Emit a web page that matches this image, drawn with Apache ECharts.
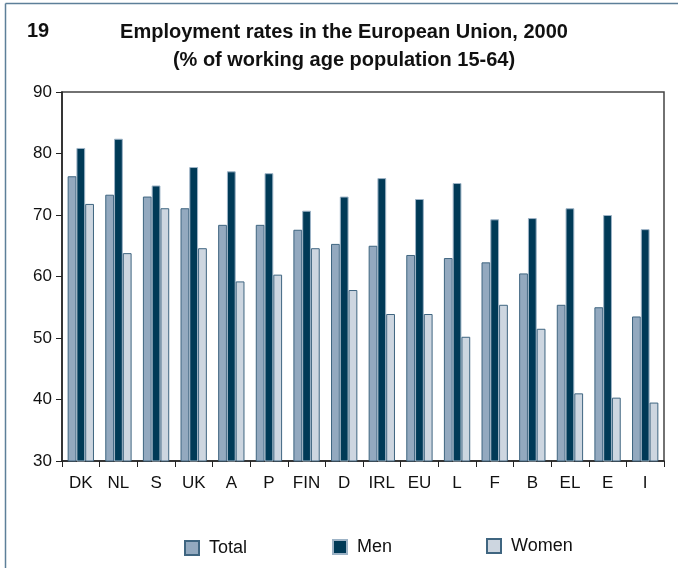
<!DOCTYPE html>
<html>
<head>
<meta charset="utf-8">
<script src="https://cdn.jsdelivr.net/npm/echarts@6/dist/echarts.min.js"></script>
<style>
  html, body { margin: 0; padding: 0; background: #fff; }
  #chart { width: 678px; height: 568px; }
</style>
</head>
<body>
<div id="chart"></div>
<script>
// Member states, ordered by total employment rate
const categories = ['DK', 'NL', 'S', 'UK', 'A', 'P', 'FIN', 'D', 'IRL', 'EU', 'L', 'F', 'B', 'EL', 'E', 'I'];
const totalRates = [76.3, 73.3, 73.0, 71.1, 68.4, 68.4, 67.6, 65.3, 65.0, 63.5, 63.0, 62.3, 60.5, 55.4, 55.0, 53.5];
const menRates   = [80.9, 82.4, 74.8, 77.8, 77.1, 76.8, 70.7, 73.0, 76.0, 72.6, 75.2, 69.3, 69.5, 71.1, 70.0, 67.7];
const womenRates = [71.8, 63.8, 71.1, 64.6, 59.2, 60.3, 64.6, 57.8, 53.9, 53.9, 50.2, 55.4, 51.5, 41.0, 40.3, 39.5];
const yTicks = [30, 40, 50, 60, 70, 80, 90];

const FONT = '"Liberation Sans", Arial, sans-serif';
const chart = echarts.init(document.getElementById('chart'), null, { renderer: 'canvas' });

const legendText = { fontFamily: FONT, fontSize: 18, color: '#111', padding: [0, 0, 0, 5] };
function legendAt(name, left, top) {
  return {
    data: [name], left: left, top: top,
    itemWidth: 14, itemHeight: 14, itemGap: 10,
    icon: 'rect', textStyle: legendText, selectedMode: false
  };
}

chart.setOption({
  animation: false,
  backgroundColor: '#fff',
  title: [
    { text: '19', left: 22, top: 16, textStyle: { fontFamily: FONT, fontSize: 20, fontWeight: 'bold', color: '#111' } },
    { text: 'Employment rates in the European Union, 2000\n(% of working age population 15-64)',
      left: 339, top: 13, textAlign: 'center',
      textStyle: { fontFamily: FONT, fontSize: 20, fontWeight: 'bold', color: '#111', lineHeight: 28 } }
  ],
  graphic: [
    { type: 'line', shape: { x1: 5.5, y1: 3.5, x2: 678, y2: 3.5 }, style: { stroke: '#5d7f99', lineWidth: 1.5 } },
    { type: 'line', shape: { x1: 5.5, y1: 3.5, x2: 5.5, y2: 568 }, style: { stroke: '#5d7f99', lineWidth: 1.5 } }
  ],
  legend: [
    legendAt('Total', 179, 534),
    legendAt('Men', 327, 533),
    legendAt('Women', 481, 532)
  ],
  grid: { left: 62, right: 14, top: 92, bottom: 107, show: true, borderColor: '#444', borderWidth: 1.5, backgroundColor: 'transparent' },
  xAxis: {
    type: 'category', data: categories,
    axisLine: { lineStyle: { color: '#222', width: 1.5 } },
    axisTick: { show: true, length: 6, alignWithLabel: false, lineStyle: { color: '#222' } },
    axisLabel: { interval: 0, fontFamily: FONT, fontSize: 17, color: '#111', margin: 14 },
    splitLine: { show: false }
  },
  yAxis: {
    type: 'value', min: yTicks[0], max: yTicks[yTicks.length - 1], interval: 10,
    axisLine: { show: true, lineStyle: { color: '#222', width: 1.5 } },
    axisTick: { show: true, length: 6, inside: false, lineStyle: { color: '#222' } },
    axisLabel: { fontFamily: FONT, fontSize: 17, color: '#111', margin: 10 },
    splitLine: { show: false }
  },
  series: [
    { name: 'Total', type: 'bar', data: totalRates, barGap: '0%', barCategoryGap: '30%',
      itemStyle: { color: '#93a9bf', borderColor: '#3f6580', borderWidth: 1 } },
    { name: 'Men', type: 'bar', data: menRates,
      itemStyle: { color: '#003a57', borderColor: '#9db3c6', borderWidth: 1 } },
    { name: 'Women', type: 'bar', data: womenRates,
      itemStyle: { color: '#cdd6e0', borderColor: '#3f6580', borderWidth: 1 } }
  ]
});
</script>
</body>
</html>
